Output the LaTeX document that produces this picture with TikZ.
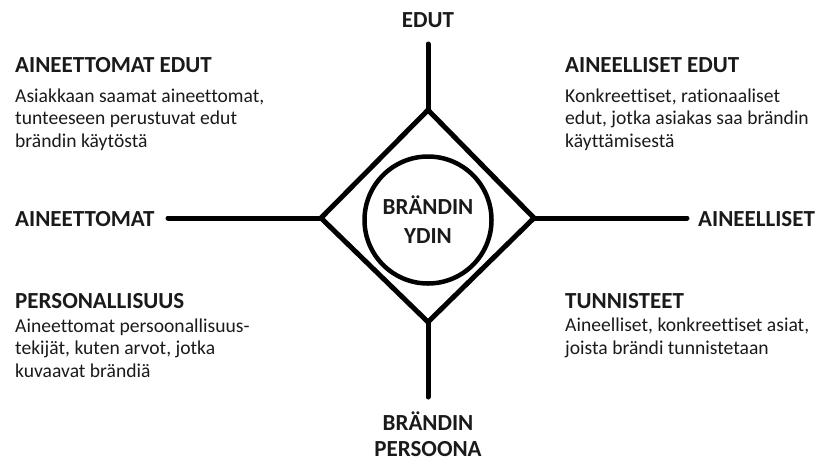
\documentclass[tikz,border=0pt]{standalone}
\usepackage{fontspec}
\setmainfont{Carlito}[Ligatures=NoCommon]
\usepackage{tikz}
\definecolor{textgray}{HTML}{1A1A1A}

\begin{document}
\begin{tikzpicture}[x=1pt,y=-1pt]
	 \tikzstyle{axis} = [draw,line width=5pt,line cap=round,black]
	 \tikzstyle{rim} = [draw,line width=5pt,line join=miter,black]
	 \tikzstyle{head} = [inner sep=0pt,text=textgray,font=\bfseries\fontsize{23}{26}\selectfont]
	 \tikzstyle{body} = [inner sep=0pt,text=textgray,align=left,font=\fontsize{19.6}{22.5}\selectfont]
	 \useasboundingbox (0,0) rectangle (818,461);
	 % diamond corners and axis ends
	 \coordinate (dtop) at (428,110);
	 \coordinate (dright) at (534,218);
	 \coordinate (dbottom) at (428,322);
	 \coordinate (dleft) at (321,218);
	 \coordinate (etop) at (428,44);
	 \coordinate (ebottom) at (428,397);
	 \coordinate (eleft) at (168,218);
	 \coordinate (eright) at (687,218);
	 \node[circle,draw,line width=4.5pt,minimum size=127pt,inner sep=0pt,
	   align=center,text=textgray,font=\bfseries\fontsize{23}{29}\selectfont] (ydin) at (428,220) {BRÄNDIN\\YDIN};
	 \draw[rim] (dtop) -- (dright) -- (dbottom) -- (dleft) -- cycle;
	 \draw[axis] (etop) -- (dtop);
	 \draw[axis] (dbottom) -- (ebottom);
	 \draw[axis] (eleft) -- (dleft);
	 \draw[axis] (dright) -- (eright);
	 % axis labels (base = last line)
	 \node[head,anchor=base] (edut) at (428,27) {EDUT};
	 \node[head,anchor=base,align=center] (persoona) at (428,456) {BRÄNDIN\\PERSOONA};
	 \node[head,anchor=base west] (aineettomat) at (15,226) {AINEETTOMAT};
	 \node[head,anchor=base west] (aineelliset) at (698,226) {AINEELLISET};
	 % quadrant texts
	 \node[head,anchor=base west] (h1) at (15,72) {AINEETTOMAT EDUT};
	 \node[body,anchor=base west] (b1) at (15,147) {Asiakkaan saamat aineettomat,\\tunteeseen perustuvat edut\\brändin käytöstä};
	 \node[head,anchor=base west] (h2) at (565,72) {AINEELLISET EDUT};
	 \node[body,anchor=base west] (b2) at (565,147) {Konkreettiset, rationaaliset\\edut, jotka asiakas saa brändin\\käyttämisestä};
	 \node[head,anchor=base west] (h3) at (15,308) {PERSONALLISUUS};
	 \node[body,anchor=base west] (b3) at (15,377) {Aineettomat persoonallisuus-\\tekijät, kuten arvot, jotka\\kuvaavat brändiä};
	 \node[head,anchor=base west] (h4) at (565,308) {TUNNISTEET};
	 \node[body,anchor=base west] (b4) at (565,354) {Aineelliset, konkreettiset asiat,\\joista brändi tunnistetaan};
 \end{tikzpicture}
\end{document}
